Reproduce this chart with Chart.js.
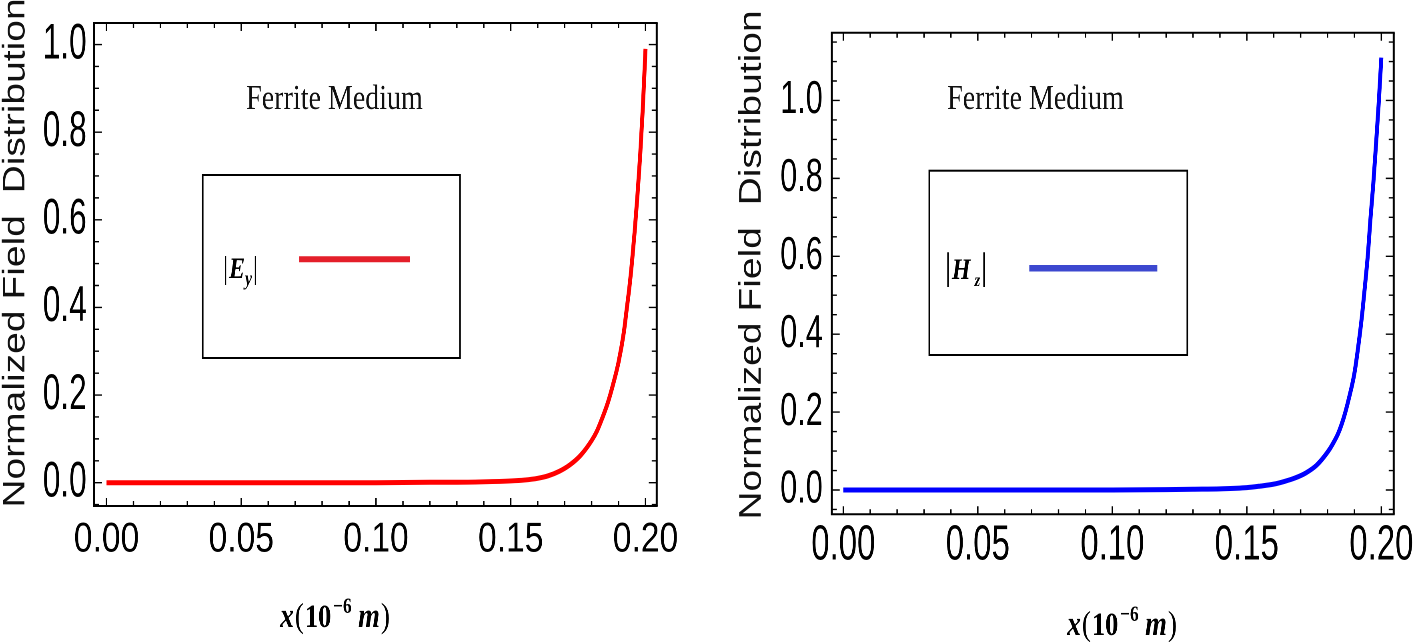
<!DOCTYPE html>
<html><head><meta charset="utf-8">
<script src="https://cdn.jsdelivr.net/npm/chart.js@4.4.1/dist/chart.umd.min.js"></script>
<style>
html,body{margin:0;padding:0;background:#fff;width:1418px;height:642px;overflow:hidden}
.wrap{position:absolute;top:0;width:886px;height:642px;transform-origin:0 0}
</style></head><body>
<div class="wrap" id="w1" style="left:0px"><canvas id="c1" width="886" height="642"></canvas></div>
<div class="wrap" id="w2" style="left:709px"><canvas id="c2" width="886" height="642"></canvas></div>
<script>
// ---------------- data ----------------
const xE = [0, 0.02, 0.04, 0.06, 0.08, 0.10, 0.12, 0.13, 0.14, 0.15, 0.155, 0.16, 0.164, 0.168, 0.172, 0.176, 0.18, 0.182, 0.184, 0.186, 0.188, 0.19, 0.192, 0.193, 0.194, 0.195, 0.196, 0.197, 0.198, 0.199, 0.2];
const yE = [0, 0, 0, 0, 0, 0, 0.001, 0.001, 0.002, 0.004, 0.006, 0.010, 0.016, 0.026, 0.041, 0.063, 0.096, 0.118, 0.148, 0.182, 0.225, 0.275, 0.345, 0.395, 0.445, 0.505, 0.575, 0.655, 0.745, 0.855, 0.99];
const xH = [0, 0.02, 0.04, 0.06, 0.08, 0.10, 0.12, 0.13, 0.14, 0.15, 0.155, 0.16, 0.164, 0.168, 0.172, 0.176, 0.18, 0.182, 0.184, 0.186, 0.188, 0.19, 0.192, 0.193, 0.194, 0.195, 0.196, 0.197, 0.198, 0.199, 0.2];
const yH = [0, 0, 0, 0, 0, 0, 0.001, 0.002, 0.003, 0.006, 0.010, 0.015, 0.022, 0.031, 0.044, 0.064, 0.097, 0.119, 0.146, 0.185, 0.237, 0.300, 0.400, 0.460, 0.530, 0.605, 0.700, 0.785, 0.885, 0.990, 1.11];
const xTickValues = [0, 0.05, 0.10, 0.15, 0.20];
const yTickValues = [0, 0.2, 0.4, 0.6, 0.8, 1.0];
const panelTitle = 'Ferrite Medium';
const yAxisTitle = 'Normalized Field  Distribution';
const legendE = ['E', 'y'];
const legendH = ['H', 'z'];

// ---------------- layout (screen px) ----------------
const S = 709 / 886;  // horizontal squeeze of the whole figure
const SERIF = '"Liberation Serif", "Times New Roman", serif';
const SANS = '"Liberation Sans", Arial, sans-serif';

// linear scale whose tick labels can be drawn horizontally condensed
class SqueezeLinear extends Chart.LinearScale {
  drawLabels(chartArea) {
    const optTicks = this.options.ticks;
    if (!optTicks.display) return;
    const k = this.options.squeeze || 1;
    const ctx = this.ctx;
    const items = this.getLabelItems(chartArea);
    for (const item of items) {
      const o = item.options;
      ctx.save();
      ctx.translate(o.translation[0], o.translation[1]);
      if (o.rotation) ctx.rotate(o.rotation);
      ctx.scale(k, 1);
      ctx.font = item.font.string;
      ctx.fillStyle = o.color;
      ctx.textAlign = o.textAlign;
      ctx.textBaseline = o.textBaseline;
      const lines = Array.isArray(item.label) ? item.label : [item.label];
      lines.forEach((l, i) => ctx.fillText(l, 0, item.textOffset + i * item.font.lineHeight));
      ctx.restore();
    }
  }
}
SqueezeLinear.id = 'squeezeLinear';
SqueezeLinear.defaults = Chart.LinearScale.defaults;
Chart.register(SqueezeLinear);

const panels = [
  {canvas:'c1', xs:xE, ys:yE, color:'#ff0000', legColor:'#e41f2a', leg:legendE,
   off:0, frame:{l:94, r:656.7, t:23, b:506},
   xMin:-0.00464, xMax:0.20416, yMin:-0.0532, yMax:1.0491,
   xFont:{family:SANS, size:42}, xSq:1, xPad:8.8,
   yFont:{family:SANS, size:50}, ySq:0.79, yPad:9.1,
   title:{x:334.5, base:109}, box:{l:202.7, r:460, t:175, b:358},
   legLine:{x1:299.3, x2:410, y:259.3, w:6}, legLabel:{x:223, base:278, bar:32, main:30, sub:20, subDy:7, gapSub:0},
   yTitle:{x:16, y:253}, xTitle:{x:335, y:617}},
  {canvas:'c2', xs:xH, ys:yH, color:'#0000ff', legColor:'#3c48cf', leg:legendH,
   off:709, frame:{l:831.7, r:1393.7, t:32.7, b:514.3},
   xMin:-0.00431, xMax:0.2046, yMin:-0.0624, yMax:1.174,
   xFont:{family:SANS, size:49}, xSq:0.84, xPad:2.3,
   yFont:{family:SANS, size:46}, ySq:0.83, yPad:11.2,
   title:{x:1035.5, base:109}, box:{l:929.3, r:1187.3, t:170.7, b:355},
   legLine:{x1:1029.3, x2:1157.3, y:268.3, w:6.5}, legLabel:{x:945, base:279, bar:38, main:30, sub:18, subDy:7, gapSub:5},
   yTitle:{x:752, y:265}, xTitle:{x:1122, y:625}}
];

function lx(p, sx) { return (sx - p.off) / S; }

function drawRich(ctx, parts, cx, base) {
  let total = 0;
  parts.forEach(pt => { ctx.font = pt.f; pt.w = ctx.measureText(pt.t).width; total += pt.w + (pt.g || 0); });
  let x = cx - total / 2;
  ctx.textAlign = 'left'; ctx.textBaseline = 'alphabetic';
  parts.forEach(pt => { ctx.font = pt.f; ctx.fillText(pt.t, x, base + (pt.dy || 0)); x += pt.w + (pt.g || 0); });
}
function drawRichLeft(ctx, parts, x, base) {
  ctx.textAlign = 'left'; ctx.textBaseline = 'alphabetic';
  parts.forEach(pt => { ctx.font = pt.f; const w = ctx.measureText(pt.t).width; ctx.fillText(pt.t, x, base + (pt.dy || 0)); x += w + (pt.g || 0); });
}

const framePlugin = {
  id: 'frameTicks',
  afterDatasetsDraw(chart, args, o) {
    const p = o.panel;
    const {ctx, chartArea: {left, right, top, bottom}, scales: {x, y}} = chart;
    ctx.save();
    ctx.strokeStyle = '#000';
    ctx.lineWidth = 2;
    ctx.beginPath();
    ctx.moveTo(left - 1.2, top); ctx.lineTo(right + 1.2, top);
    ctx.moveTo(left - 1.2, bottom); ctx.lineTo(right + 1.2, bottom);
    ctx.stroke();
    ctx.lineWidth = 2 / S;
    ctx.beginPath();
    ctx.moveTo(left, top); ctx.lineTo(left, bottom);
    ctx.moveTo(right, top); ctx.lineTo(right, bottom);
    ctx.stroke();
    // x ticks: minor every 0.01, major every 0.05
    ctx.lineWidth = 1.4 / S;
    ctx.beginPath();
    for (let i = Math.ceil(p.xMin / 0.01); i * 0.01 <= p.xMax; i++) {
      const len = (i % 5 === 0) ? 8 : 5;
      const px = x.getPixelForValue(i * 0.01);
      ctx.moveTo(px, bottom); ctx.lineTo(px, bottom - len);
      ctx.moveTo(px, top); ctx.lineTo(px, top + len);
    }
    ctx.stroke();
    // y ticks: minor every 0.05, major every 0.2
    ctx.lineWidth = 1.4;
    ctx.beginPath();
    for (let i = Math.ceil(p.yMin / 0.05 - 1e-9); i * 0.05 <= p.yMax + 1e-9; i++) {
      const len = ((i % 4 === 0) ? 8 : 5) / S;
      const py = y.getPixelForValue(i * 0.05);
      ctx.moveTo(left, py); ctx.lineTo(left + len, py);
      ctx.moveTo(right, py); ctx.lineTo(right - len, py);
    }
    ctx.stroke();
    ctx.restore();
  },
  afterDraw(chart, args, o) {
    const p = o.panel;
    const ctx = chart.ctx;
    ctx.save();
    ctx.fillStyle = '#000';
    // panel title
    ctx.font = '35px ' + SERIF;
    ctx.textAlign = 'center'; ctx.textBaseline = 'alphabetic';
    ctx.fillStyle = '#111';
    ctx.fillText(panelTitle, lx(p, p.title.x), p.title.base);
    ctx.fillStyle = '#000';
    // legend box
    ctx.strokeStyle = '#000';
    ctx.lineWidth = 2;
    const bl = lx(p, p.box.l), br = lx(p, p.box.r);
    ctx.strokeRect(bl, p.box.t, br - bl, p.box.b - p.box.t);
    // legend line
    ctx.strokeStyle = p.legColor;
    ctx.lineWidth = p.legLine.w;
    ctx.beginPath();
    ctx.moveTo(lx(p, p.legLine.x1), p.legLine.y); ctx.lineTo(lx(p, p.legLine.x2), p.legLine.y);
    ctx.stroke();
    // legend label |E_y|
    const L = p.legLabel;
    drawRichLeft(ctx, [
      {t:'|', f: L.bar + 'px ' + SERIF, g:1},
      {t:p.leg[0], f:'italic bold ' + L.main + 'px ' + SERIF, g:L.gapSub},
      {t:p.leg[1], f:'italic bold ' + L.sub + 'px ' + SERIF, dy:L.subDy, g:1},
      {t:'|', f: L.bar + 'px ' + SERIF}
    ], lx(p, L.x), L.base);
    // x axis title
    drawRich(ctx, [
      {t:'x', f:'italic bold 35px ' + SERIF, g:1},
      {t:'(', f:'35px ' + SERIF, g:1},
      {t:'10', f:'bold 33px ' + SERIF, g:2},
      {t:'\u22126', f:'bold 22px ' + SERIF, dy:-14, g:8},
      {t:'m', f:'italic bold 35px ' + SERIF, g:1},
      {t:')', f:'35px ' + SERIF}
    ], lx(p, p.xTitle.x), p.xTitle.y + 10);
    // y axis title
    ctx.translate(lx(p, p.yTitle.x), p.yTitle.y);
    ctx.rotate(-Math.PI / 2);
    ctx.font = '39px ' + SANS;
    ctx.textAlign = 'center'; ctx.textBaseline = 'middle';
    ctx.fillStyle = '#111';
    ctx.fillText(yAxisTitle, 0, 0);
    ctx.restore();
  }
};

panels.forEach(p => {
  document.getElementById(p.canvas).parentElement.style.transform = 'scaleX(' + S + ')';
  const W = 886, H = 642;
  new Chart(document.getElementById(p.canvas), {
    type: 'line',
    data: {
      datasets: [{
        data: p.xs.map((v, i) => ({x: v, y: p.ys[i]})),
        borderColor: p.color, borderWidth: 5, pointRadius: 0,
        cubicInterpolationMode: 'monotone', fill: false
      }]
    },
    options: {
      responsive: false, animation: false, devicePixelRatio: 2,
      layout: {padding: {left: 0, top: p.frame.t, right: W - lx(p, p.frame.r), bottom: 0}},
      plugins: {legend: {display: false}, tooltip: {enabled: false}, frameTicks: {panel: p}},
      scales: {
        x: {
          type: 'squeezeLinear', squeeze: p.xSq, min: p.xMin, max: p.xMax,
          afterBuildTicks: s => { s.ticks = xTickValues.map(v => ({value: v})); },
          afterFit: s => { s.height = H - p.frame.b; s.paddingLeft = 0; s.paddingRight = 0; },
          ticks: {callback: v => Number(v).toFixed(2), font: p.xFont, color: '#000', padding: p.xPad, maxRotation: 0, autoSkip: false},
          grid: {display: false, drawTicks: false}, border: {display: false}
        },
        y: {
          type: 'squeezeLinear', squeeze: p.ySq, min: p.yMin, max: p.yMax,
          afterBuildTicks: s => { s.ticks = yTickValues.map(v => ({value: v})); },
          afterFit: s => { s.width = lx(p, p.frame.l); s.paddingTop = 0; s.paddingBottom = 0; },
          ticks: {callback: v => Number(v).toFixed(1), font: p.yFont, color: '#000', padding: p.yPad, autoSkip: false},
          grid: {display: false, drawTicks: false}, border: {display: false}
        }
      }
    },
    plugins: [framePlugin]
  });
});
</script>
</body></html>
